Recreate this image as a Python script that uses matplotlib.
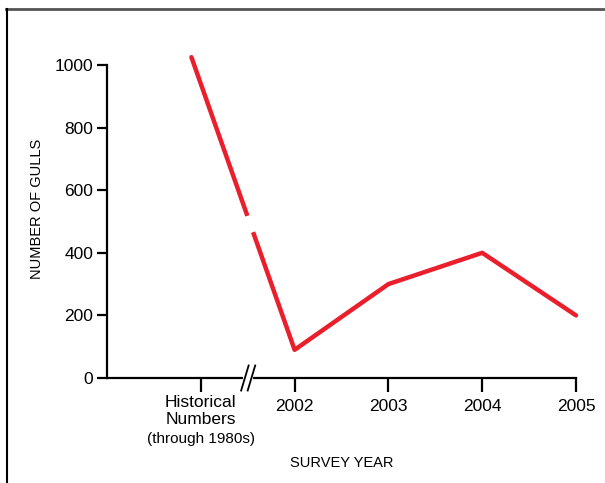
import numpy as np
import matplotlib.pyplot as plt
from matplotlib.lines import Line2D
from matplotlib.transforms import blended_transform_factory

plt.rcParams['font.family'] = ['Liberation Sans', 'DejaVu Sans']

# data
categories = ['Historical', '2002', '2003', '2004', '2005']
x_pos = [-0.1, 1, 2, 3, 4]
gulls = [1025, 90, 300, 400, 200]
tick_pos = [0, 1, 2, 3, 4]
tick_labels = ['', '2002', '2003', '2004', '2005']

red = '#ea1f2b'

fig = plt.figure(figsize=(6.05, 4.83), dpi=100)
W, H = 605, 483
ax = fig.add_axes([107 / W, (H - 378) / H, (576 - 107) / W, (378 - 65) / H])

ax.plot(x_pos, gulls, color=red, lw=3.2, clip_on=False, solid_capstyle='round', zorder=3)

# gap in the historical segment (break in the line)
gap_vals = np.array([518, 466])
gap_x = np.interp(gap_vals, [gulls[1], gulls[0]], [x_pos[1], x_pos[0]])
ax.plot(gap_x, gap_vals, color='white', lw=6, solid_capstyle='butt', zorder=4)

ax.set_xlim(-1, 4)
ax.set_ylim(0, 1000)
ax.set_yticks([0, 200, 400, 600, 800, 1000])
ax.set_xticks(tick_pos)
ax.set_xticklabels(tick_labels)

for s in ['top', 'right']:
    ax.spines[s].set_visible(False)
for s in ['left', 'bottom']:
    ax.spines[s].set_linewidth(1.6)
ax.tick_params(axis='both', width=1.6, labelsize=12.5, color='black')
ax.tick_params(axis='x', length=10, pad=5)
ax.tick_params(axis='y', length=7, pad=3)

# historical tick label
trans = blended_transform_factory(ax.transData, ax.transAxes)
ax.text(0, -0.053, 'Historical\nNumbers', transform=trans, ha='center', va='top',
        fontsize=12.5, linespacing=1.2)
ax.text(0, -0.172, '(through 1980s)', transform=trans, ha='center', va='top',
        fontsize=11)

# axis break marks
brk_x = 0.505
ax.plot([brk_x - 0.03, brk_x + 0.03], [0, 0], color='white', lw=3,
        transform=trans, clip_on=False, zorder=5)
for dx in [-0.035, 0.035]:
    ax.plot([brk_x + dx - 0.04, brk_x + dx + 0.04], [-0.04, 0.04], color='black',
            lw=1.3, transform=trans, clip_on=False, zorder=6)

ax.set_xlabel('SURVEY YEAR', fontsize=10.5, labelpad=0)
ax.xaxis.set_label_coords(0.5, -0.25)
ax.set_ylabel('NUMBER OF GULLS', fontsize=10.5)
ax.yaxis.set_label_coords(-0.135, 0.54)

# outer frame
fig.add_artist(Line2D([6 / W, 1], [1 - 9 / H, 1 - 9 / H], color='#555555', lw=2))
fig.add_artist(Line2D([6.5 / W, 6.5 / W], [0, 1 - 9 / H], color='black', lw=1.5))

fig.savefig('out.png', dpi=100)
